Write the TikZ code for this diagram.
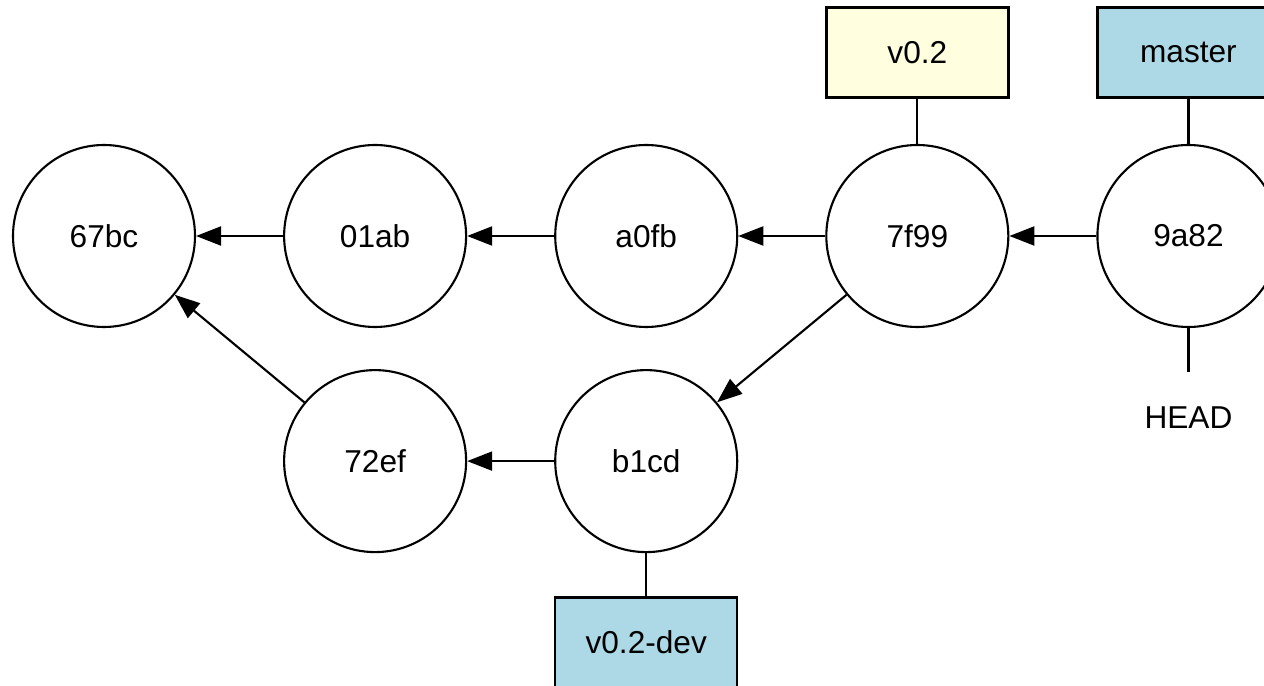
\documentclass[tikz,border=0pt]{standalone}
\usepackage{fontspec}
\setmainfont{Liberation Sans}
\usetikzlibrary{arrows.meta, positioning}
\definecolor{branchblue}{RGB}{173,216,230}
\definecolor{tagyellow}{RGB}{255,255,224}

\begin{document}
\begin{tikzpicture}[
    commit/.style={draw, circle, minimum size=3.64cm, inner sep=0pt,
                   line width=1.2pt, font=\fontsize{18}{21}\selectfont},
    refbox/.style={draw, rectangle, minimum width=3.64cm, minimum height=1.8cm,
                   line width=1.4pt, font=\fontsize{18}{21}\selectfont},
    headlbl/.style={minimum height=1.8cm, font=\fontsize{18}{21}\selectfont},
    arw/.style={-{Triangle[length=0.5cm, width=0.38cm]}, line width=1.2pt},
    refline/.style={line width=1.2pt}
  ]
    \useasboundingbox (-2.08,4.72) rectangle (23.2,-9.0);

    % Commits
    \node[commit]                        (67bc) {67bc};
    \node[commit, right=1.74cm of 67bc]  (01ab) {01ab};
    \node[commit, right=1.74cm of 01ab]  (a0fb) {a0fb};
    \node[commit, right=1.74cm of a0fb]  (7f99) {7f99};
    \node[commit, right=1.74cm of 7f99]  (9a82) {9a82};
    \node[commit, below=0.82cm of a0fb]  (b1cd) {b1cd};
    \node[commit, below=0.82cm of 01ab]  (72ef) {72ef};

    % Refs
    \node[refbox, fill=tagyellow, above=0.9cm of 7f99]   (v02)    {v0.2};
    \node[refbox, fill=branchblue, above=0.9cm of 9a82]  (master) {master};
    \node[refbox, fill=branchblue, below=0.86cm of b1cd] (v02dev) {v0.2-dev};
    \node[headlbl, below=0.88cm of 9a82]                 (head)   {HEAD};

    % Parents
    \draw[arw] (01ab) -- (67bc);
    \draw[arw] (a0fb) -- (01ab);
    \draw[arw] (7f99) -- (a0fb);
    \draw[arw] (9a82) -- (7f99);
    \draw[arw] (7f99) -- (b1cd);
    \draw[arw] (b1cd) -- (72ef);
    \draw[arw] (72ef) -- (67bc);

    % Ref links
    \draw[refline] (v02)    -- (7f99);
    \draw[refline] (master) -- (9a82);
    \draw[refline] (v02dev) -- (b1cd);
    \draw[refline] (head)   -- (9a82);
  \end{tikzpicture}
\end{document}
